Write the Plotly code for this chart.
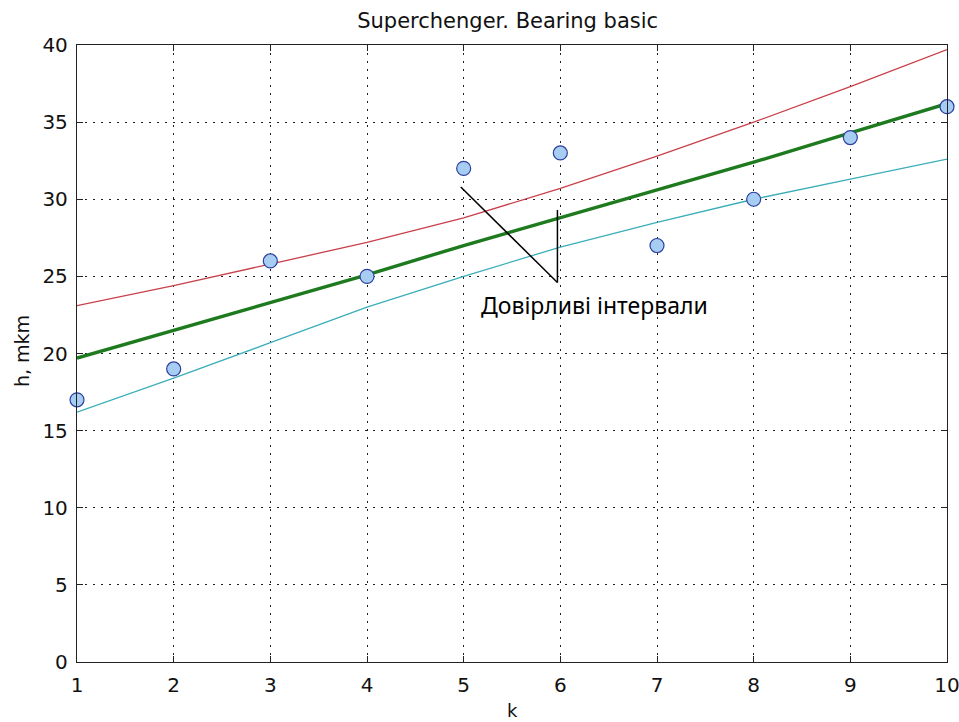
import plotly.graph_objects as go

k = [1, 2, 3, 4, 5, 6, 7, 8, 9, 10]
h_obs = [17, 19, 26, 25, 32, 33, 27, 30, 34, 36]
h_fit = [19.7, 21.5, 23.3, 25.1, 27.0, 28.8, 30.6, 32.4, 34.3, 36.2]
h_upper = [23.1, 24.4, 25.8, 27.2, 28.8, 30.7, 32.8, 35.0, 37.3, 39.7]
h_lower = [16.2, 18.4, 20.7, 23.0, 25.0, 26.9, 28.5, 30.0, 31.3, 32.6]
x_ticks = [1, 2, 3, 4, 5, 6, 7, 8, 9, 10]
y_ticks = [0, 5, 10, 15, 20, 25, 30, 35, 40]

TICKFONT = dict(family="DejaVu Sans", size=20, color="#111111")

fig = go.Figure()
fig.add_trace(go.Scatter(x=k, y=h_upper, mode="lines", line=dict(color="#c8404a", width=1.3), showlegend=False))
fig.add_trace(go.Scatter(x=k, y=h_lower, mode="lines", line=dict(color="#3aaeb8", width=1.3), showlegend=False))
fig.add_trace(go.Scatter(x=k, y=h_fit, mode="lines", line=dict(color="#1e7a1e", width=3.4), showlegend=False))
fig.add_trace(go.Scatter(x=k, y=h_obs, mode="markers",
                         marker=dict(symbol="circle", size=14, color="#a8cdf2",
                                     line=dict(color="#2a3fa0", width=1.2)),
                         showlegend=False, cliponaxis=False))

# annotation pointer lines
fig.add_shape(type="line", x0=4.97, y0=30.8, x1=5.97, y1=24.6, line=dict(color="black", width=1.5))
fig.add_shape(type="line", x0=5.97, y0=29.3, x1=5.97, y1=24.6, line=dict(color="black", width=1.5))
fig.add_annotation(x=6.353, y=23.15, text="Довірливі інтервали", showarrow=False,
                   font=dict(family="Noto Sans", size=23, color="black"), xanchor="center", yanchor="middle")

# axis titles
fig.add_annotation(xref="paper", yref="paper", x=-0.0632, y=0.504, text="h, mkm", textangle=-90,
                   showarrow=False, xanchor="center", yanchor="middle",
                   font=dict(family="DejaVu Sans", size=19, color="#111111"))
fig.add_annotation(xref="paper", yref="paper", x=0.5, y=-0.079, text="k",
                   showarrow=False, xanchor="center", yanchor="middle",
                   font=dict(family="DejaVu Sans", size=18, color="#111111"))

axis_common = dict(showline=True, linecolor="#222222", linewidth=1.3, mirror="ticks",
                   ticks="inside", ticklen=6, tickcolor="#222222", tickwidth=1.3,
                   showgrid=True, gridcolor="#222222", griddash="1.5px,6.5px", gridwidth=1.3,
                   zeroline=False, tickfont=TICKFONT, automargin=False, ticklabeloverflow="allow")

fig.update_xaxes(range=[1, 10], tickvals=x_ticks, ticklabelstandoff=5, **axis_common)
fig.update_yaxes(range=[0, 40], tickvals=y_ticks, ticklabelstandoff=4, **axis_common)

fig.update_layout(
    width=959, height=722,
    margin=dict(l=77, r=12, t=45, b=60),
    paper_bgcolor="white", plot_bgcolor="white",
    title=dict(text="Superchenger. Bearing basic", x=0.495, xref="paper", xanchor="center",
               y=0.971, yanchor="middle",
               font=dict(family="DejaVu Sans", size=21, color="#111111")),
)

fig.write_html("out.html", config={"displayModeBar": False},
               post_script="document.body.style.margin='0';document.body.style.overflow='hidden';")
